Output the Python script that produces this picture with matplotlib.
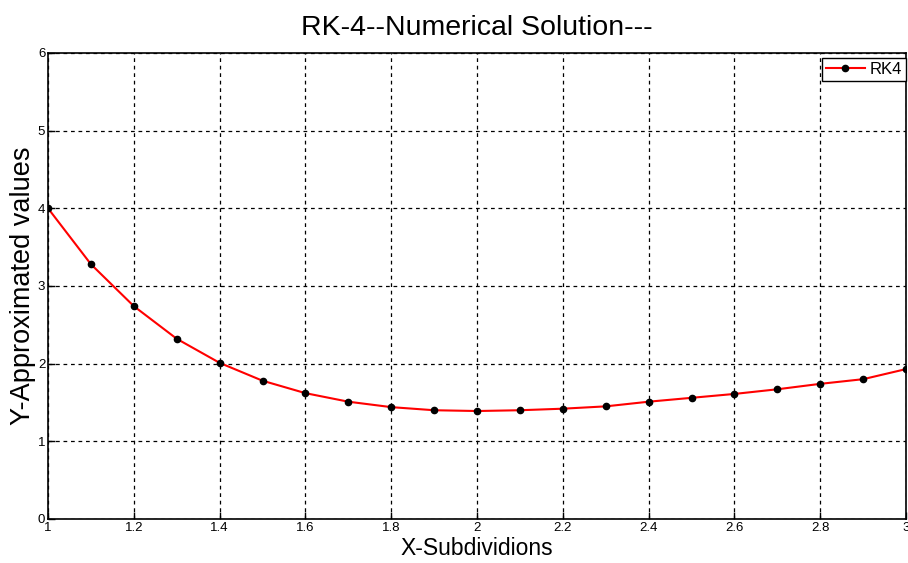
import numpy as np
import matplotlib.pyplot as plt

# RK4 approximations
x_values = [1.0, 1.1, 1.2, 1.3, 1.4, 1.5, 1.6, 1.7, 1.8, 1.9, 2.0,
            2.1, 2.2, 2.3, 2.4, 2.5, 2.6, 2.7, 2.8, 2.9, 3.0]
y_values = [4.00, 3.28, 2.74, 2.32, 2.01, 1.78, 1.62, 1.51, 1.44, 1.40, 1.39,
            1.40, 1.42, 1.45, 1.51, 1.56, 1.61, 1.67, 1.74, 1.80, 1.93]

x_ticks = [1, 1.2, 1.4, 1.6, 1.8, 2, 2.2, 2.4, 2.6, 2.8, 3]
x_tick_labels = ["1", "1.2", "1.4", "1.6", "1.8", "2", "2.2", "2.4", "2.6", "2.8", "3"]
y_ticks = [0, 1, 2, 3, 4, 5, 6]

plt.rcParams['font.family'] = ['Liberation Sans', 'DejaVu Sans']

fig = plt.figure(figsize=(9.08, 5.63), dpi=100)
ax = fig.add_axes([0.0529, 0.0782, 0.945, 0.8277])

ax.plot(x_values, y_values, color='red', linewidth=1.5, marker='o',
        markersize=4.5, markerfacecolor='black', markeredgecolor='black', label='RK4')

ax.set_xlim(1, 3)
ax.set_ylim(0, 6)
ax.set_xticks(x_ticks)
ax.set_xticklabels(x_tick_labels)
ax.set_yticks(y_ticks)
ax.tick_params(direction='in', length=5, width=1, labelsize=9.5, colors='black', pad=2)
ax.grid(True, color='black', linestyle=(0, (3, 3)), linewidth=0.9)
for s in ax.spines.values():
    s.set_linewidth(1.2)

ax.set_title("RK-4--Numerical Solution---", fontsize=20.5, pad=13)
ax.set_xlabel("X-Subdividions", fontsize=16.5, labelpad=2)
ax.set_ylabel("Y-Approximated values", fontsize=19.5, labelpad=1)

leg = ax.legend(loc='upper right', bbox_to_anchor=(1.0, 0.989), fontsize=12,
                fancybox=False, framealpha=1, edgecolor='black', borderaxespad=0,
                handlelength=2.3, handletextpad=0.3, borderpad=0.25)
leg.get_frame().set_linewidth(1)

fig.savefig("out.png", dpi=100)
